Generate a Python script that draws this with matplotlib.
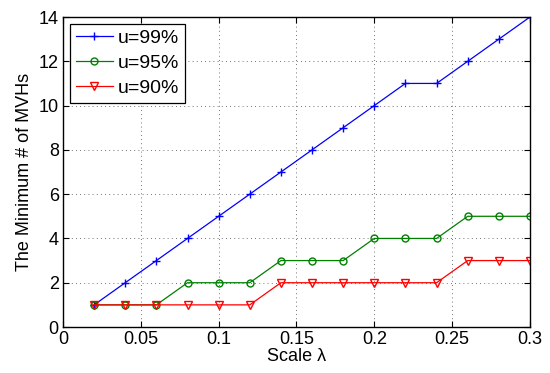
import matplotlib
matplotlib.use("Agg")
import matplotlib.pyplot as plt

x = [0.02, 0.04, 0.06, 0.08, 0.10, 0.12, 0.14, 0.16, 0.18, 0.20, 0.22, 0.24, 0.26, 0.28, 0.30]
u99 = [1, 2, 3, 4, 5, 6, 7, 8, 9, 10, 11, 11, 12, 13, 14]
u95 = [1, 1, 1, 2, 2, 2, 3, 3, 3, 4, 4, 4, 5, 5, 5]
u90 = [1, 1, 1, 1, 1, 1, 2, 2, 2, 2, 2, 2, 3, 3, 3]
labels = ["u=99%", "u=95%", "u=90%"]
xticks = [0, 0.05, 0.1, 0.15, 0.2, 0.25, 0.3]
xticklabels = ["0", "0.05", "0.1", "0.15", "0.2", "0.25", "0.3"]
yticks = [0, 2, 4, 6, 8, 10, 12, 14]

plt.rcParams['font.family'] = ['Liberation Sans', 'DejaVu Sans']

fig = plt.figure(figsize=(5.5, 3.73), dpi=100)
ax = fig.add_axes([0.1145, 0.1233, 0.8491, 0.8311])

ax.plot(x, u99, color='#0000ff', marker='+', markersize=6, linewidth=0.9, label=labels[0])
ax.plot(x, u95, color='#008000', marker='o', markersize=5, markerfacecolor='none', linewidth=0.9, label=labels[1])
ax.plot(x, u90, color='#ff0000', marker='v', markersize=6, markerfacecolor='none', linewidth=0.9, label=labels[2])

ax.set_xlim(0, 0.3)
ax.set_ylim(0, 14)
ax.set_xticks(xticks)
ax.set_xticklabels(xticklabels)
ax.set_yticks(yticks)
ax.tick_params(direction='in', top=True, right=True, labelsize=13, length=4, width=0.8, pad=3)
ax.grid(True, linestyle=(0, (1, 4)), color='#444444', linewidth=0.6)
for s in ax.spines.values():
    s.set_linewidth(1.0)

ax.set_xlabel('Scale λ', fontsize=13, labelpad=0)
ax.set_ylabel('The Minimum # of MVHs', fontsize=13, labelpad=4)

leg = ax.legend(loc='upper left', fontsize=14, fancybox=False, framealpha=1,
                edgecolor='black', handlelength=1.9, borderpad=0.3, labelspacing=0.38,
                handletextpad=0.25, borderaxespad=0.35)
leg.get_frame().set_linewidth(0.9)

fig.savefig('out.png', dpi=100)
